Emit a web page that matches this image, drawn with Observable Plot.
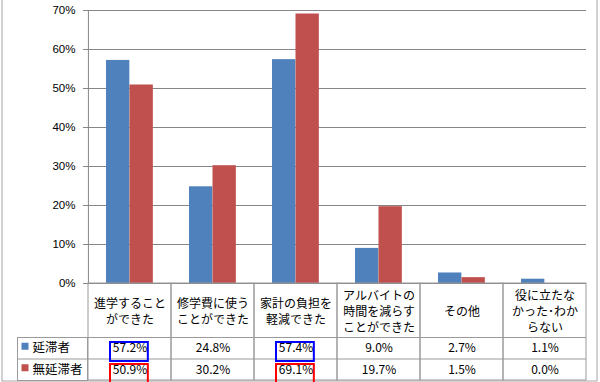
<!DOCTYPE html>
<html>
<head>
<meta charset="utf-8">
<script src="https://cdn.jsdelivr.net/npm/d3@7"></script>
<script src="https://cdn.jsdelivr.net/npm/@observablehq/plot@0.6"></script>
<style>
  html, body { margin: 0; padding: 0; background: #fff; }
  #chart { width: 600px; height: 382px; }
</style>
</head>
<body>
<div id="chart"></div>
<script>
// ---- data ----
const categories = [
  "進学すること\nができた",
  "修学費に使う\nことができた",
  "家計の負担を\n軽減できた",
  "アルバイトの\n時間を減らす\nことができた",
  "その他",
  "役に立たな\nかった･わか\nらない"
];
const seriesNames = ["延滞者", "無延滞者"];
const delinquent = [57.2, 24.8, 57.4, 9.0, 2.7, 1.1];
const nonDelinquent = [50.9, 30.2, 69.1, 19.7, 1.5, 0.0];
const seriesColors = ["#4F81BD", "#C0504D"];
const yTicks = [0, 10, 20, 30, 40, 50, 60, 70];
const highlightBlue = [categories[0], categories[2]];
const highlightRed = [categories[0], categories[2]];

const rows = categories.map((c, i) => ({category: c, a: delinquent[i], b: nonDelinquent[i]}));

// ---- layout ----
const W = 600, H = 382, mL = 87, mR = 14, mT = 10, mB = 99;
const fw = W - mL - mR, fh = H - mT - mB, bw = fw / categories.length;
const barPad = 18, barW = 23.5;
const headH = 54, rowH = 21.5;
const gridColor = "#868686", tableColor = "#9a9a9a";
const jp = "'Noto Sans CJK JP', sans-serif";
const fmt = d3.format(".1f");

const chart = Plot.plot({
  width: W, height: H,
  marginLeft: mL, marginRight: mR, marginTop: mT, marginBottom: mB,
  style: {fontFamily: jp, fontSize: "12px", background: "#fff", color: "#000"},
  x: {domain: categories, padding: 0, axis: null},
  y: {domain: [0, 70], axis: null},
  marks: [
    // outer border
    Plot.frame({stroke: "#a6a6a6", insetLeft: -(mL - 1.5), insetRight: -(mR - 3.5), insetTop: -20, insetBottom: -(mB - 1.5)}),
    // gridlines
    Plot.gridY(yTicks, {stroke: gridColor, strokeOpacity: 1}),
    // small ticks left of the axis
    Plot.ruleY(yTicks, {stroke: gridColor, insetLeft: -4, insetRight: fw}),
    // y axis line
    Plot.ruleX([categories[0]], {x: d => d, dx: -bw / 2, stroke: gridColor}),
    Plot.axisY(yTicks, {tickSize: 0, tickPadding: 12, tickFormat: d => d + "%", fontFamily: "'Liberation Sans', sans-serif", fontSize: 11.5, label: null}),
    // bars
    Plot.barY(rows, {x: "category", y: "a", fill: seriesColors[0], insetLeft: barPad, insetRight: bw - barPad - barW}),
    Plot.barY(rows, {x: "category", y: "b", fill: seriesColors[1], insetLeft: barPad + barW, insetRight: bw - barPad - 2 * barW}),
    // table columns
    Plot.cell(categories, {x: d => d, fill: "none", stroke: tableColor, insetTop: fh, insetBottom: -(headH + 2 * rowH)}),
    // legend column box
    Plot.frame({stroke: tableColor, insetLeft: -70, insetRight: fw, insetTop: fh + headH, insetBottom: -(headH + 2 * rowH)}),
    // row lines
    Plot.ruleY([0], {stroke: tableColor, dy: headH, insetLeft: -70}),
    Plot.ruleY([0], {stroke: tableColor, dy: headH + rowH, insetLeft: -70}),
    // header labels
    Plot.text(categories, {x: d => d, text: d => d, frameAnchor: "bottom", dy: headH / 2, lineAnchor: "middle", lineHeight: 1.34, fontSize: 12}),
    // values
    Plot.text(rows, {x: "category", text: d => fmt(d.a) + "%", frameAnchor: "bottom", dy: headH + rowH / 2, lineAnchor: "middle", fontSize: 12}),
    Plot.text(rows, {x: "category", text: d => fmt(d.b) + "%", frameAnchor: "bottom", dy: headH + rowH * 1.5, lineAnchor: "middle", fontSize: 12}),
    // legend
    Plot.dot([seriesNames[0]], {x: null, y: null, frameAnchor: "bottom-left", dx: -62.5, dy: headH + rowH / 2 - 2, symbol: "square", r: 3.95, fill: seriesColors[0]}),
    Plot.dot([seriesNames[1]], {x: null, y: null, frameAnchor: "bottom-left", dx: -62.5, dy: headH + rowH * 1.5 - 2, symbol: "square", r: 3.95, fill: seriesColors[1]}),
    Plot.text([seriesNames[0]], {x: null, y: null, text: d => d, frameAnchor: "bottom-left", dx: -55, dy: headH + rowH / 2, textAnchor: "start", lineAnchor: "middle", fontSize: 12.5}),
    Plot.text([seriesNames[1]], {x: null, y: null, text: d => d, frameAnchor: "bottom-left", dx: -55, dy: headH + rowH * 1.5, textAnchor: "start", lineAnchor: "middle", fontSize: 12.5}),
    // highlight boxes
    Plot.cell(highlightBlue, {x: d => d, fill: "none", stroke: "#0000ff", strokeWidth: 2, insetLeft: 22, insetRight: bw - 22 - 38, insetTop: fh + 59, insetBottom: -(headH + 24)}),
    Plot.cell(highlightRed, {x: d => d, fill: "none", stroke: "#ff0000", strokeWidth: 2, insetLeft: 22, insetRight: bw - 22 - 38, insetTop: fh + 81, insetBottom: -(headH + 46)})
  ]
});
document.getElementById("chart").appendChild(chart);
</script>
</body>
</html>
